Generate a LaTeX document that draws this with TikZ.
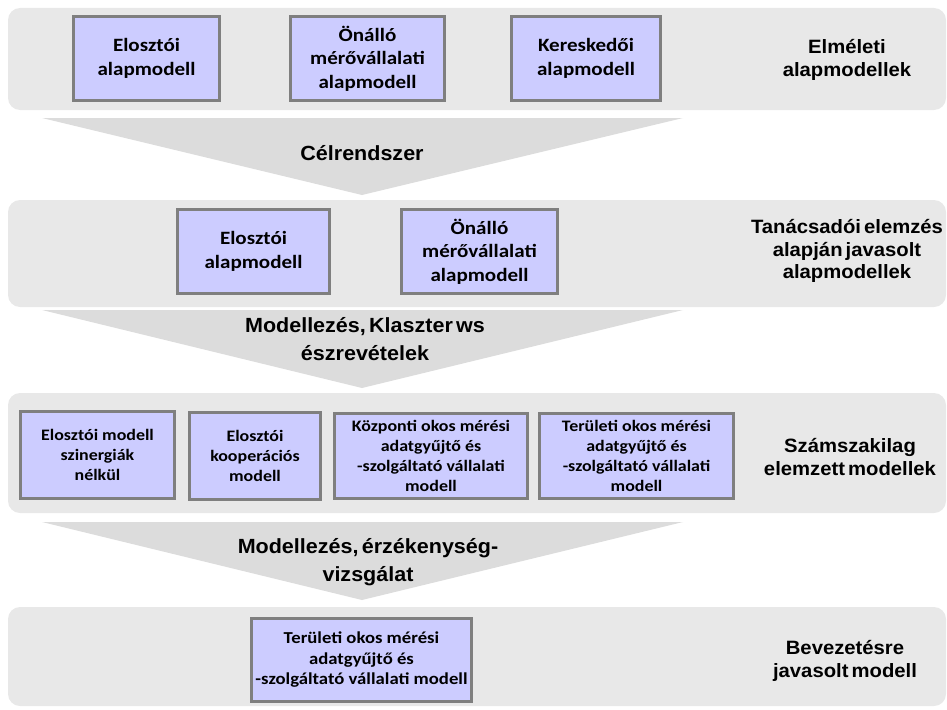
\documentclass[tikz,border=0pt]{standalone}
\usepackage{fontspec}
\newfontfamily\boxfont[FakeStretch=1.12]{Carlito}
\newfontfamily\lblfont[FakeStretch=1.05,WordSpace=0.55]{Liberation Sans}
\definecolor{bandfill}{HTML}{E8E8E8}
\definecolor{funnelfill}{HTML}{DCDCDC}
\definecolor{boxfill}{HTML}{CCCCFF}
\definecolor{boxline}{HTML}{7F7F7F}
\tikzset{
  band/.style={fill=bandfill, draw=none, rounded corners=12pt},
  funnel/.style={fill=funnelfill, draw=none},
  mbox/.style={fill=boxfill, draw=boxline, line width=2.8pt, inner sep=0pt, align=center,
    font=\boxfont\bfseries\fontsize{18.8}{23.5}\selectfont},
  sbox/.style={mbox, font=\boxfont\bfseries\fontsize{16}{20}\selectfont},
  wbox/.style={mbox, font=\boxfont\bfseries\fontsize{16.7}{20.5}\selectfont},
  sidelbl/.style={align=center, inner sep=0pt, font=\lblfont\bfseries\fontsize{19.3}{22.5}\selectfont},
  funlbl/.style={align=center, inner sep=0pt, font=\lblfont\bfseries\fontsize{20.5}{28}\selectfont}
}
\begin{document}
\begin{tikzpicture}[x=1pt,y=-1pt]
\useasboundingbox (0,0) rectangle (947,709);
% bands
\draw[band] (8,8) rectangle (946,110);
\draw[band] (8,200) rectangle (946,307);
\draw[band] (8,393) rectangle (946,513);
\draw[band] (8,607) rectangle (946,706);
% funnels
\fill[funnel] (42,118) -- (683,118) -- (362,195) -- cycle;
\fill[funnel] (42,310) -- (683,310) -- (362,388) -- cycle;
\fill[funnel] (42,522) -- (683,522) -- (362,600) -- cycle;
% funnel labels
\node[funlbl] (f1) at (362,153) {Célrendszer};
\node[funlbl] (f2) at (365,339) {Modellezés, Klaszter ws\\észrevételek};
\node[funlbl] (f3) at (368,562) {Modellezés, érzékenység-\\vizsgálat};
% band 1
\node[mbox, minimum width=146, minimum height=84] (b11) at (146.5,58.5) {Elosztói\\alapmodell};
\node[mbox, minimum width=154, minimum height=84] (b12) at (367.5,58.5) {Önálló\\mérővállalati\\alapmodell};
\node[mbox, minimum width=149, minimum height=84] (b13) at (586,58.5) {Kereskedői\\alapmodell};
\node[sidelbl] (l1) at (847,60) {Elméleti\\alapmodellek};
% band 2
\node[mbox, minimum width=152, minimum height=84] (b21) at (253.5,251.5) {Elosztói\\alapmodell};
\node[mbox, minimum width=156, minimum height=84] (b22) at (479.5,251.5) {Önálló\\mérővállalati\\alapmodell};
\node[sidelbl] (l2) at (847,251) {Tanácsadói elemzés\\alapján javasolt\\alapmodellek};
% band 3
\node[sbox, minimum width=154, minimum height=87] (b31) at (97.5,455) {Elosztói modell\\szinergiák\\nélkül};
\node[sbox, minimum width=131, minimum height=87] (b32) at (255,456) {Elosztói\\kooperációs\\modell};
\node[sbox, minimum width=193, minimum height=85] (b33) at (431,456) {Központi okos mérési\\adatgyűjtő és\\-szolgáltató vállalati\\modell};
\node[sbox, minimum width=194, minimum height=85] (b34) at (636.5,456) {Területi okos mérési\\adatgyűjtő és\\-szolgáltató vállalati\\modell};
\node[sidelbl] (l3) at (850,457) {Számszakilag\\elemzett modellek};
% band 4
\node[wbox, minimum width=220, minimum height=83] (b41) at (361.5,660) {Területi okos mérési\\adatgyűjtő és\\-szolgáltató vállalati modell};
\node[sidelbl] (l4) at (845,661) {Bevezetésre\\javasolt modell};
\end{tikzpicture}
\end{document}
